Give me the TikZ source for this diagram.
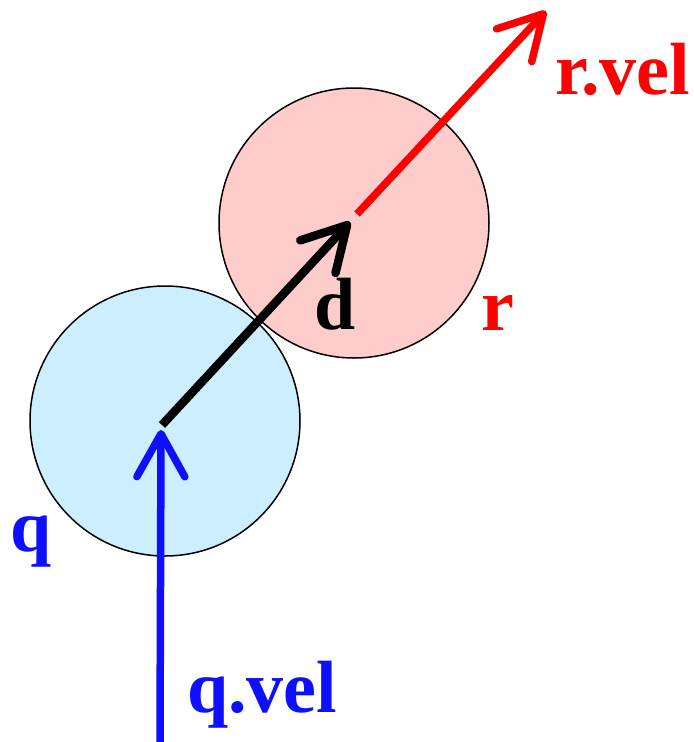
\documentclass[tikz,border=0pt]{standalone}
\usepackage{fontspec}
\setmainfont{Liberation Serif}
\usetikzlibrary{arrows.meta}
\definecolor{qblue}{HTML}{0F0FFF}
\definecolor{rred}{HTML}{FF0000}
\definecolor{qfill}{HTML}{CCEEFF}
\definecolor{rfill}{HTML}{FFCCCC}
\tikzset{
  ball/.style={circle, draw=black, line width=1.5pt, minimum size=270pt, inner sep=0pt},
  vec/.style={line width=7.5pt, line cap=butt, -{Straight Barb[length=43pt,width=48pt,round]}},
  lbl/.style={font=\fontsize{74}{80}\selectfont\bfseries, inner sep=0pt, anchor=base west}
}
\begin{document}
\begin{tikzpicture}[x=1pt,y=-1pt]
\useasboundingbox (0,0) rectangle (694,742);
\node[ball, fill=qfill] (qball) at (165,421) {};
\node[ball, fill=rfill] (rball) at (354,223) {};
\coordinate (qc) at (162,425);
\coordinate (dtip) at (350,222);
\coordinate (rs) at (357,214);
\coordinate (rtip) at (546,11);
\coordinate (qs) at (160,742);
\coordinate (qtip) at (161,430);
\draw[vec, draw=qblue] (qs) -- (qtip);
\draw[vec, draw=black, line width=8.5pt] (qc) -- (dtip);
\draw[vec, draw=rred] (rs) -- (rtip);
\node[lbl, text=qblue] (qlbl) at (10,551) {q};
\node[lbl, text=qblue] (qvel) at (187,712) {q.vel};
\node[lbl, text=black] (dlbl) at (314,329) {d};
\node[lbl, text=rred] (rlbl) at (481,330) {r};
\node[lbl, text=rred] (rvel) at (555,94) {r.vel};
\end{tikzpicture}
\end{document}
